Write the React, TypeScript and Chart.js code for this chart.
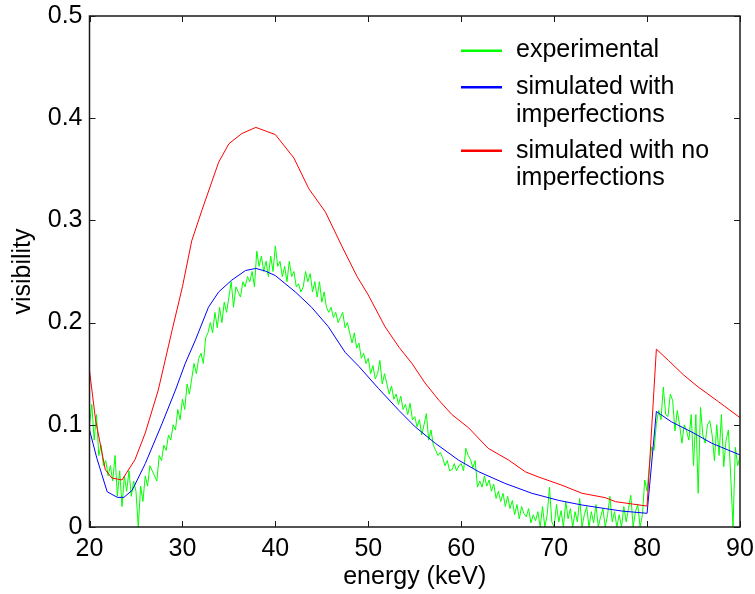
import { useEffect, useRef } from "react";
import { Chart, registerables } from "chart.js";

Chart.register(...registerables);

const xTicks = [20, 30, 40, 50, 60, 70, 80, 90];
const xTickLabels = ["20", "30", "40", "50", "60", "70", "80", "90"];
const yTicks = [0, 0.1, 0.2, 0.3, 0.4, 0.5];
const yTickLabels = ["0", "0.1", "0.2", "0.3", "0.4", "0.5"];

const xTitle = "energy (keV)";
const yTitle = "visibility";

const legendLabels = [
  ["experimental"],
  ["simulated with", "imperfections"],
  ["simulated with no", "imperfections"],
];
const seriesColors = ["#00ff00", "#0000ff", "#ff0000"];

// experimental: sampled every 0.25 keV from 20 keV
const expStart = 20;
const expStep = 0.25;
const expValues = [
  0.10, 0.12, 0.085, 0.11, // 20
  0.07, 0.08, 0.06, 0.065, // 21
  0.05, 0.06, 0.045, 0.07, // 22
  0.03, 0.055, 0.02, 0.05, // 23
  0.035, 0.055, 0.03, 0.045, // 24
  0.035, 0.0, 0.04, 0.025, // 25
  0.05, 0.04, 0.06, 0.055, // 26
  0.05, 0.045, 0.07, 0.065, // 27
  0.08, 0.075, 0.09, 0.085, // 28
  0.1, 0.095, 0.115, 0.105, // 29
  0.125, 0.115, 0.14, 0.13, // 30
  0.145, 0.16, 0.15, 0.165, // 31
  0.17, 0.16, 0.185, 0.19, // 32
  0.2, 0.19, 0.21, 0.195, // 33
  0.215, 0.2, 0.22, 0.21, // 34
  0.225, 0.24, 0.215, 0.235, // 35
  0.23, 0.225, 0.24, 0.235, // 36
  0.245, 0.24, 0.25, 0.235, // 37
  0.27, 0.255, 0.265, 0.25, // 38
  0.26, 0.245, 0.265, 0.25, // 39
  0.275, 0.255, 0.26, 0.245, // 40
  0.255, 0.24, 0.26, 0.245, // 41
  0.25, 0.235, 0.238, 0.23, // 42
  0.235, 0.25, 0.24, 0.248, // 43
  0.23, 0.24, 0.225, 0.24, // 44
  0.22, 0.23, 0.215, 0.21, // 45
  0.215, 0.205, 0.21, 0.2, // 46
  0.205, 0.21, 0.195, 0.2, // 47
  0.19, 0.18, 0.19, 0.175, // 48
  0.18, 0.165, 0.17, 0.16, // 49
  0.165, 0.15, 0.158, 0.145, // 50
  0.15, 0.163, 0.14, 0.15, // 51
  0.14, 0.13, 0.138, 0.125, // 52
  0.13, 0.12, 0.128, 0.115, // 53
  0.12, 0.11, 0.121, 0.105, // 54
  0.108, 0.098, 0.105, 0.09, // 55
  0.1, 0.111, 0.085, 0.095, // 56
  0.08, 0.075, 0.07, 0.073, // 57
  0.068, 0.06, 0.065, 0.055, // 58
  0.056, 0.062, 0.055, 0.06, // 59
  0.062, 0.055, 0.077, 0.07, // 60
  0.066, 0.058, 0.065, 0.039, // 61
  0.045, 0.039, 0.05, 0.04, // 62
  0.046, 0.035, 0.042, 0.028, // 63
  0.035, 0.025, 0.033, 0.02, // 64
  0.03, 0.018, 0.026, 0.012, // 65
  0.022, 0.008, 0.02, 0.013, // 66
  0.01, 0.018, 0.004, 0.012, // 67
  0.006, 0.015, 0.0, 0.02, // 68
  0.0, 0.012, 0.039, 0.005, // 69
  0.0, 0.022, 0.005, 0.016, // 70
  0.0, 0.025, 0.008, 0.018, // 71
  0.0, 0.015, 0.005, 0.028, // 72
  0.0, 0.012, 0.02, 0.0, // 73
  0.015, 0.004, 0.022, 0.0, // 74
  0.01, 0.018, 0.0, 0.012, // 75
  0.03, 0.005, 0.015, 0.0, // 76
  0.012, 0.0, 0.02, 0.005, // 77
  0.018, 0.031, 0.0, 0.015, // 78
  0.022, 0.0, 0.012, 0.046, // 79
  0.035, 0.06, 0.0785, 0.075, // 80
  0.101, 0.114, 0.105, 0.137, // 81
  0.11, 0.108, 0.13, 0.124, // 82
  0.094, 0.114, 0.1, 0.082, // 83
  0.1, 0.094, 0.085, 0.11, // 84
  0.06, 0.11, 0.033, 0.117, // 85
  0.09, 0.082, 0.1, 0.104, // 86
  0.09, 0.065, 0.1, 0.07, // 87
  0.11, 0.059, 0.085, 0.095, // 88
  0.05, 0.0, 0.078, 0.06, // 89
  0.069, // 90
];

// simulated with imperfections
const impEnergy = [
  20, 20.8, 21.9, 23.0, 23.7, 24.6, 26.0, 27.8, 29.25, 30.3, 31.4, 32.8, 33.9,
  35.3, 36.8, 37.9, 38.9, 40.0, 42.15, 43.9, 45.7, 47.5, 49.0, 51.1, 53.3,
  55.05, 57.2, 59.7, 61.9, 64.7, 67.6, 70.5, 73.0, 75.5, 77.3, 80.0, 81.0,
  82.6, 84.8, 86.95, 90,
];
const impValues = [
  0.095, 0.067, 0.0345, 0.029, 0.029, 0.036, 0.062, 0.101, 0.134, 0.16, 0.183,
  0.215, 0.23, 0.2415, 0.251, 0.253, 0.2505, 0.246, 0.23, 0.215, 0.196, 0.171,
  0.157, 0.1355, 0.114, 0.098, 0.082, 0.0655, 0.054, 0.0427, 0.033, 0.026,
  0.0215, 0.018, 0.0156, 0.0134, 0.113, 0.103, 0.093, 0.082, 0.0705,
];

// simulated with no imperfections
const idealEnergy = [
  20, 20.65, 21.7, 22.4, 23.5, 24.9, 26.0, 27.4, 28.9, 30.0, 31.0, 32.1, 33.9,
  35.0, 36.4, 37.9, 40.0, 42.0, 43.6, 45.4, 47.2, 48.8, 50.0, 51.8, 53.3, 54.7,
  56.1, 57.6, 59.0, 60.8, 62.9, 65.1, 66.9, 68.3, 70.8, 73.0, 75.5, 76.6, 78.4,
  80.0, 81.0, 82.3, 83.9, 85.5, 87.7, 90,
];
const idealValues = [
  0.153, 0.105, 0.056, 0.048, 0.046, 0.066, 0.092, 0.134, 0.193, 0.235, 0.28,
  0.31, 0.357, 0.375, 0.385, 0.391, 0.384, 0.361, 0.331, 0.308, 0.274, 0.245,
  0.227, 0.196, 0.176, 0.16, 0.141, 0.124, 0.11, 0.097, 0.077, 0.0655, 0.054,
  0.049, 0.041, 0.033, 0.0287, 0.0248, 0.0225, 0.0205, 0.174, 0.163, 0.149,
  0.137, 0.1225, 0.107,
];

const FONT_FAMILY = '"Liberation Sans", Arial, Helvetica, sans-serif';
const FONT_SIZE = 25;

const boxPlugin = {
  id: "matlabBox",
  afterDatasetsDraw(chart: any) {
    const { ctx, chartArea, scales } = chart;
    const { left, right, top, bottom } = chartArea;
    ctx.save();
    ctx.strokeStyle = "#1a1a1a";
    ctx.lineWidth = 1.5;
    ctx.strokeRect(left, top, right - left, bottom - top);
    ctx.lineWidth = 1;
    const tl = 6;
    ctx.beginPath();
    xTicks.forEach((v) => {
      const px = Math.round(scales.x.getPixelForValue(v)) + 0.5;
      ctx.moveTo(px, bottom);
      ctx.lineTo(px, bottom - tl);
      ctx.moveTo(px, top);
      ctx.lineTo(px, top + tl);
    });
    yTicks.forEach((v) => {
      const py = Math.round(scales.y.getPixelForValue(v)) + 0.5;
      ctx.moveTo(left, py);
      ctx.lineTo(left + tl, py);
      ctx.moveTo(right, py);
      ctx.lineTo(right - tl, py);
    });
    ctx.stroke();
    ctx.restore();
  },
  afterDraw(chart: any) {
    const { ctx } = chart;
    const lineX0 = 461;
    const lineX1 = 502;
    const textX = 516;
    const items = [
      { lineY: 50.7, baselines: [57.3] },
      { lineY: 87.3, baselines: [94, 121.7] },
      { lineY: 150.7, baselines: [158.3, 185] },
    ];
    ctx.save();
    ctx.font = `${FONT_SIZE}px ${FONT_FAMILY}`;
    ctx.textBaseline = "alphabetic";
    ctx.textAlign = "left";
    legendLabels.forEach((lines, i) => {
      const it = items[i];
      ctx.strokeStyle = seriesColors[i];
      ctx.lineWidth = 2.5;
      ctx.beginPath();
      ctx.moveTo(lineX0, it.lineY);
      ctx.lineTo(lineX1, it.lineY);
      ctx.stroke();
      ctx.fillStyle = "#000";
      lines.forEach((t, j) => ctx.fillText(t, textX, it.baselines[j]));
    });
    ctx.restore();
  },
};

export default function App() {
  const ref = useRef<HTMLCanvasElement>(null);

  useEffect(() => {
    document.body.style.margin = "0";
    const canvas = ref.current;
    if (!canvas) return;
    const font = { family: FONT_FAMILY, size: FONT_SIZE };
    const chart = new Chart(canvas, {
      type: "line",
      data: {
        datasets: [
          {
            label: legendLabels[0].join(" "),
            data: expValues.map((v, i) => ({ x: expStart + i * expStep, y: v })),
            borderColor: seriesColors[0],
            borderWidth: 1,
            pointRadius: 0,
            tension: 0,
            order: 3,
          },
          {
            label: legendLabels[1].join(" "),
            data: impEnergy.map((x, i) => ({ x, y: impValues[i] })),
            borderColor: seriesColors[1],
            borderWidth: 1,
            pointRadius: 0,
            tension: 0,
            order: 2,
          },
          {
            label: legendLabels[2].join(" "),
            data: idealEnergy.map((x, i) => ({ x, y: idealValues[i] })),
            borderColor: seriesColors[2],
            borderWidth: 1,
            pointRadius: 0,
            tension: 0,
            order: 1,
          },
        ],
      },
      options: {
        responsive: false,
        animation: false,
        devicePixelRatio: 1,
        layout: { padding: { top: 16, right: 15, left: 0, bottom: 0 } },
        plugins: {
          legend: { display: false },
          tooltip: { enabled: false },
        },
        scales: {
          x: {
            type: "linear",
            min: 20,
            max: 90,
            afterBuildTicks: (s: any) => {
              s.ticks = xTicks.map((v) => ({ value: v }));
            },
            afterFit: (s: any) => {
              s.height = 67;
              s.paddingLeft = 0;
              s.paddingRight = 0;
            },
            ticks: {
              font,
              color: "#000",
              padding: 7,
              maxRotation: 0,
              autoSkip: false,
              callback: (v: any) => xTickLabels[xTicks.indexOf(Number(v))] ?? "",
            },
            grid: { display: false, drawTicks: false },
            border: { display: false },
            title: {
              display: true,
              text: xTitle,
              font,
              color: "#000",
              padding: { top: 0, bottom: 2 },
            },
          },
          y: {
            type: "linear",
            min: 0,
            max: 0.5,
            afterBuildTicks: (s: any) => {
              s.ticks = yTicks.map((v) => ({ value: v }));
            },
            afterFit: (s: any) => {
              s.width = 89.5;
              s.paddingTop = 0;
              s.paddingBottom = 0;
            },
            ticks: {
              font,
              color: "#000",
              padding: 7,
              autoSkip: false,
              callback: (v: any) => {
                const idx = yTicks.findIndex((t) => Math.abs(t - Number(v)) < 1e-9);
                return idx >= 0 ? yTickLabels[idx] : "";
              },
            },
            grid: { display: false, drawTicks: false },
            border: { display: false },
            title: {
              display: true,
              text: yTitle,
              font,
              color: "#000",
              padding: { top: 8, bottom: 0 },
            },
          },
        },
      },
      plugins: [boxPlugin],
    } as any);
    return () => chart.destroy();
  }, []);

  return (
    <canvas
      ref={ref}
      width={755}
      height={594}
      style={{ display: "block", width: 755, height: 594 }}
    />
  );
}
